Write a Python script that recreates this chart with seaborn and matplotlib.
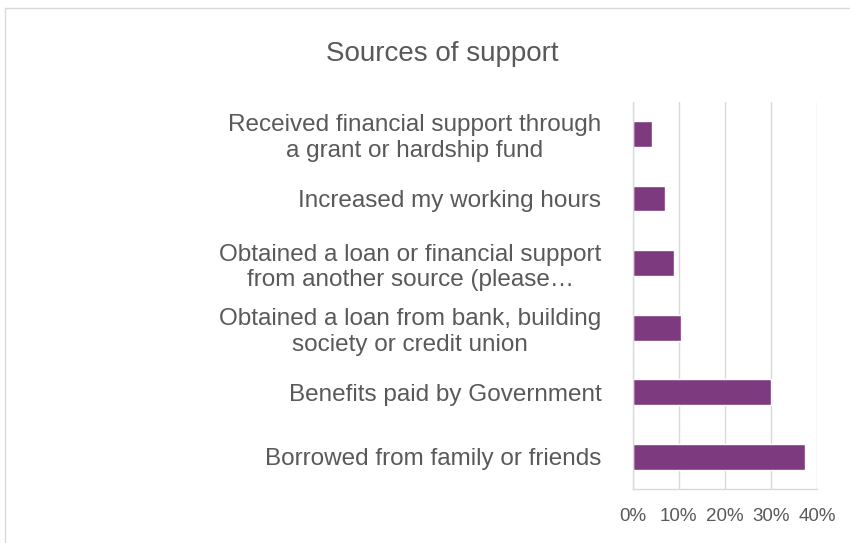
import matplotlib
matplotlib.use("Agg")
import matplotlib.pyplot as plt
import matplotlib.patches as mpatches
from matplotlib.ticker import PercentFormatter
import seaborn as sns
import pandas as pd

categories = [
    "Received financial support through\na grant or hardship fund",
    "Increased my working hours",
    "Obtained a loan or financial support\nfrom another source (please\u2026",
    "Obtained a loan from bank, building\nsociety or credit union",
    "Benefits paid by Government",
    "Borrowed from family or friends",
]
shares = [4.1, 6.9, 8.9, 10.5, 29.9, 37.3]
x_ticks = [0, 10, 20, 30, 40]

sns.set_theme(style="white")
plt.rcParams["font.family"] = ["Liberation Sans", "DejaVu Sans"]

TEXT = "#595959"
GRID = "#d9d9d9"
BAR = "#7e3a7e"

fig = plt.figure(figsize=(8.5, 5.43), dpi=100)
fig.patch.set_facecolor("white")
ax = fig.add_axes([0.7444, 0.0994, 0.2171, 0.7133])

df = pd.DataFrame({"source": categories, "share": shares})
sns.barplot(data=df, y="source", x="share", orient="h", color=BAR,
            saturation=1, width=0.4, ax=ax)

ax.set_xlim(0, 40)
ax.set_ylim(5.5, -0.5)
ax.set_xticks(x_ticks)
ax.xaxis.set_major_formatter(PercentFormatter(decimals=0))
ax.set_xlabel("")
ax.set_ylabel("")
ax.grid(axis="x", color=GRID, linewidth=1)
ax.grid(axis="y", visible=False)
ax.set_axisbelow(True)
for side in ("top", "right"):
    ax.spines[side].set_visible(False)
ax.spines["left"].set_color(GRID)
ax.spines["bottom"].set_color(GRID)
ax.spines["left"].set_linewidth(1)
ax.spines["bottom"].set_linewidth(1)

ax.tick_params(axis="x", colors=TEXT, labelsize=13.5, length=0, pad=14)
ax.tick_params(axis="y", colors=TEXT, labelsize=17.5, length=0, pad=22.5)
for lbl in ax.get_yticklabels():
    lbl.set_multialignment("center")
    lbl.set_linespacing(1.2)

fig.text(0.5206, 0.901, "Sources of support", ha="center", va="center",
         fontsize=20, color=TEXT)

frame = mpatches.Rectangle((5 / 850, -0.05), 1.0, 1 - 8 / 543 + 0.05,
                           transform=fig.transFigure, fill=False,
                           edgecolor="#d9d9d9", linewidth=1)
fig.patches.append(frame)

fig.savefig("out.png", dpi=100, facecolor="white")
